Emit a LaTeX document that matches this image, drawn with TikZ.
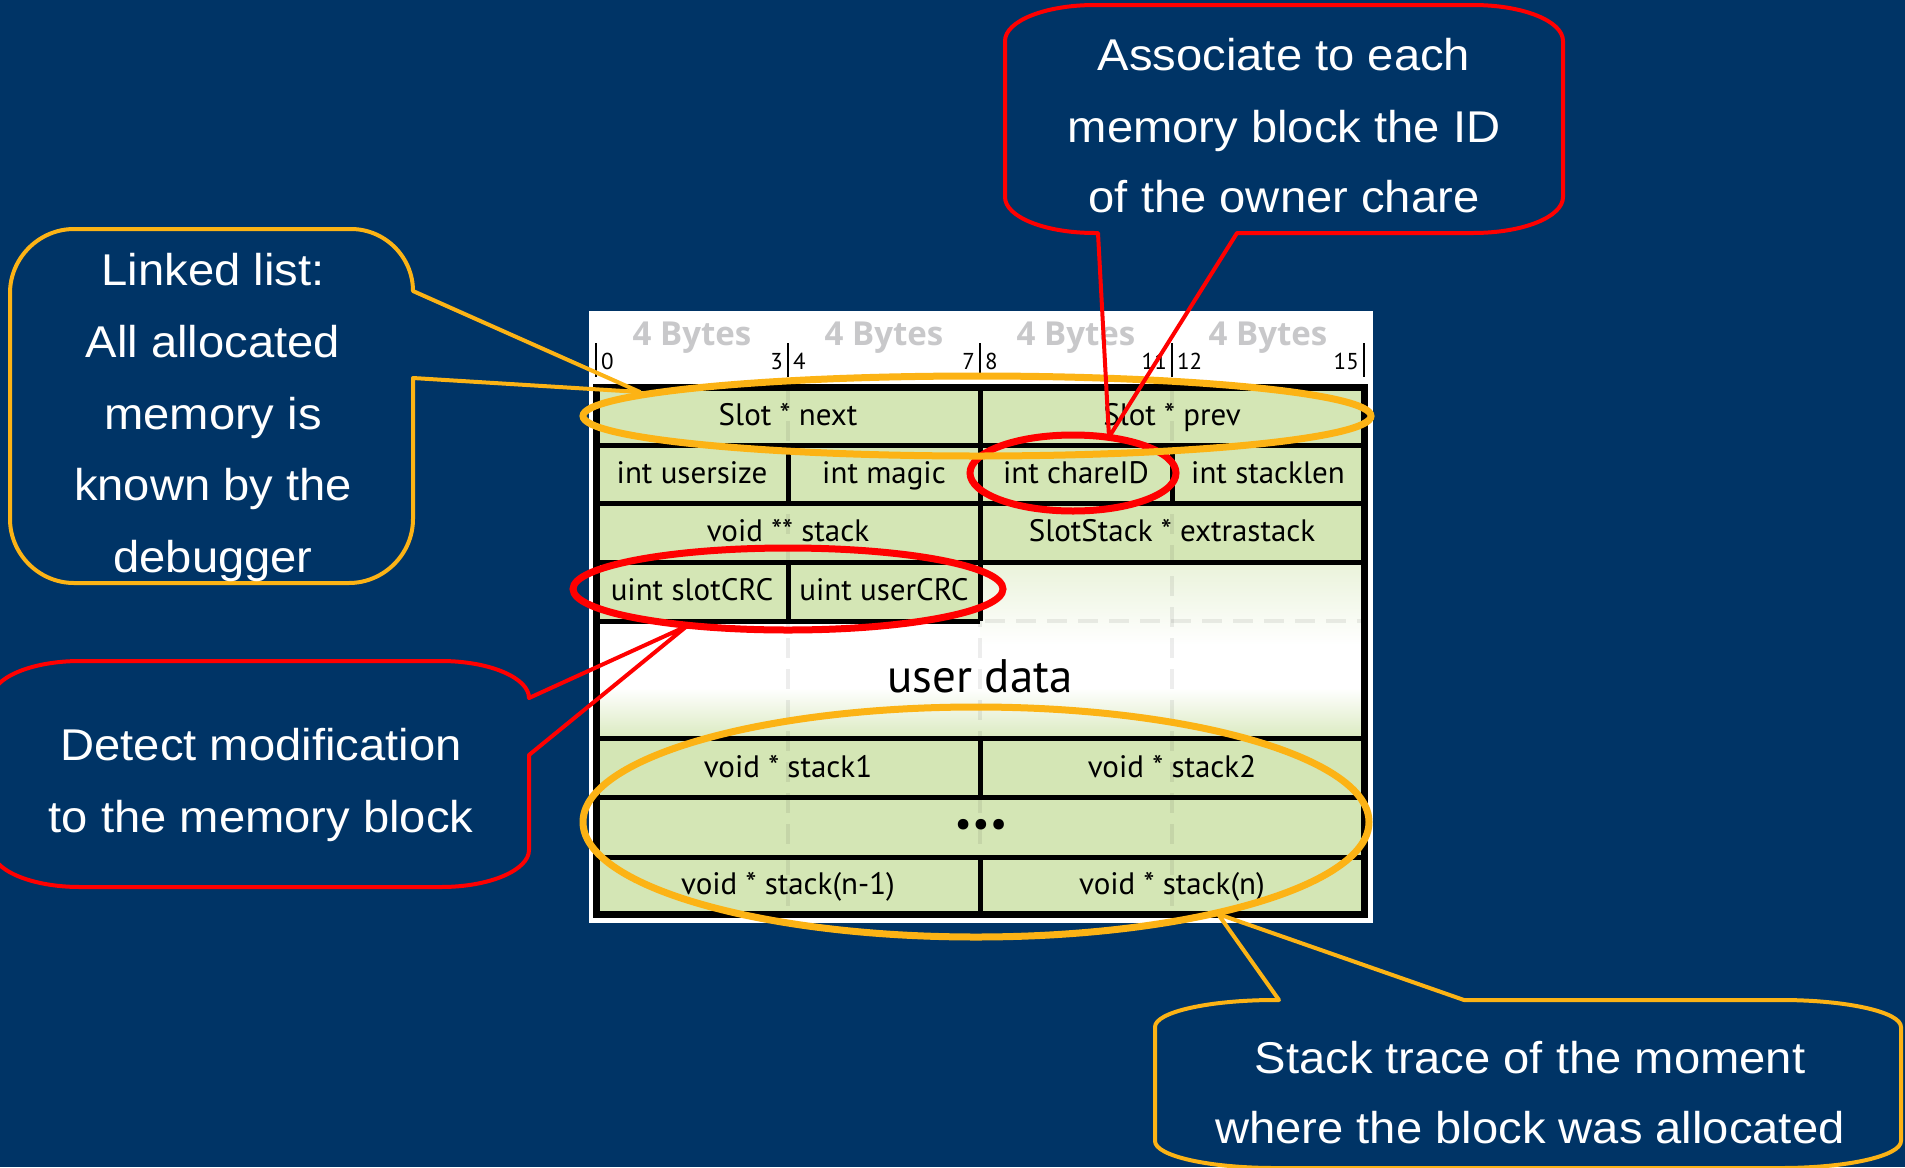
\documentclass[tikz,border=0pt]{standalone}
\usepackage{fontspec}
\setmainfont{Liberation Sans}
\newfontfamily\cellfont{PT Sans}
\newfontfamily\bytefont{Open Sans}
\newfontfamily\callfont{Liberation Sans}[FakeStretch=1.06]
\definecolor{navy}{HTML}{003466}
\definecolor{cellgreen}{HTML}{D4E6B5}
\definecolor{hlorange}{HTML}{FCB315}
\definecolor{hlred}{HTML}{FF0000}
\definecolor{bytegray}{HTML}{C8C8CA}
\tikzset{
  cell/.style={fill=cellgreen},
  gridline/.style={line width=5bp, black},
  frameline/.style={line width=7bp, black},
  guide/.style={line width=4bp, black, opacity=0.07, dash pattern=on 20bp off 11bp},
  celltext/.style={anchor=base, font=\cellfont\fontsize{31bp}{36bp}\selectfont, inner sep=0},
  bigtext/.style={anchor=base, font=\cellfont\fontsize{47bp}{52bp}\selectfont, inner sep=0},
  bytelabel/.style={anchor=base, font=\bytefont\bfseries\fontsize{33bp}{40bp}\selectfont, text=bytegray, inner sep=0},
  ticknum/.style={font=\cellfont\fontsize{23bp}{27bp}\selectfont, inner sep=0},
  tickmark/.style={line width=2.5bp, black},
  calltext/.style={anchor=base, text=white, font=\callfont\fontsize{44.5bp}{50bp}\selectfont, inner sep=0},
  orangecall/.style={draw=hlorange, line width=4bp, line join=round},
  redcall/.style={draw=hlred, line width=4bp, line join=round},
  orangering/.style={draw=hlorange, line width=7bp},
  redring/.style={draw=hlred, line width=7bp},
}
\begin{document}
\begin{tikzpicture}[x=1bp,y=-1bp]
\useasboundingbox (0,0) rectangle (1905,1167);
\fill[navy] (0,0) rectangle (1905,1167);

% slot layout table
\fill[white] (589,311) rectangle (1373,923);
\node[bytelabel] (b1) at (692,345) {4 Bytes};
\node[bytelabel] (b2) at (884,345) {4 Bytes};
\node[bytelabel] (b3) at (1076,345) {4 Bytes};
\node[bytelabel] (b4) at (1268,345) {4 Bytes};
\foreach \x in {596,788,980,1172,1364} \draw[tickmark] (\x,343) -- (\x,377);
\node[ticknum, anchor=base west] (n0) at (601,369) {0};
\node[ticknum, anchor=base east] (n3) at (783,369) {3};
\node[ticknum, anchor=base west] (n4) at (793,369) {4};
\node[ticknum, anchor=base east] (n7) at (975,369) {7};
\node[ticknum, anchor=base west] (n8) at (985,369) {8};
\node[ticknum, anchor=base east] (n11) at (1167,369) {11};
\node[ticknum, anchor=base west] (n12) at (1177,369) {12};
\node[ticknum, anchor=base east] (n15) at (1359,369) {15};

% cell fills
\fill[cell] (596,387) rectangle (1364,562);
\fill[cell] (596,562) rectangle (980,621);
\shade[top color=cellgreen!50!white, bottom color=white] (980,562) rectangle (1364,645);
\fill[white] (596,621) rectangle (980,645);
\fill[white] (596,645) rectangle (1364,688);
\shade[top color=white, bottom color=cellgreen!85!white] (596,688) rectangle (1364,738);
\fill[cell] (596,738) rectangle (1364,914);

% 4-byte guides
\foreach \x in {788,980,1172} \draw[guide] (\x,390) -- (\x,912);
\draw[guide] (985,621) -- (1362,621);

% cell borders
\draw[gridline] (596,445) -- (1364,445);
\draw[gridline] (596,503) -- (1364,503);
\draw[gridline] (596,562) -- (1364,562);
\draw[gridline] (596,621) -- (980,621);
\draw[gridline] (596,738) -- (1364,738);
\draw[gridline] (596,797) -- (1364,797);
\draw[gridline] (596,857) -- (1364,857);
\draw[gridline] (980,387) -- (980,621);
\draw[gridline] (788,445) -- (788,503);
\draw[gridline] (1172,445) -- (1172,503);
\draw[gridline] (788,562) -- (788,621);
\draw[gridline] (980,738) -- (980,797);
\draw[gridline] (980,857) -- (980,914);
\draw[frameline] (596,387) rectangle (1364,914);

% field names
\node[celltext] (next) at (788,425) {Slot * next};
\node[celltext] (prev) at (1172,425) {Slot * prev};
\node[celltext] (usersize) at (692,483) {int usersize};
\node[celltext] (magic) at (884,483) {int magic};
\node[celltext] (chareid) at (1076,483) {int chareID};
\node[celltext] (stacklen) at (1268,483) {int stacklen};
\node[celltext] (stack) at (788,541) {void ** stack};
\node[celltext] (extra) at (1172,541) {SlotStack * extrastack};
\node[celltext] (slotcrc) at (692,600) {uint slotCRC};
\node[celltext] (usercrc) at (884,600) {uint userCRC};
\node[bigtext] (udata) at (980,692) {user data};
\node[celltext] (st1) at (788,777) {void * stack1};
\node[celltext] (st2) at (1172,777) {void * stack2};
\node[font=\cellfont\fontsize{38bp}{44bp}\selectfont, inner sep=0] (dots) at (981,828) {•\kern0.5bp•\kern0.5bp•};
\node[celltext] (stn1) at (788,894) {void * stack(n-1)};
\node[celltext] (stn) at (1172,894) {void * stack(n)};

% highlight rings
\draw[redring] (1073,473) ellipse [x radius=103, y radius=38];
\draw[redring] (788,589) ellipse [x radius=215, y radius=41];
\draw[orangering] (977,416) ellipse [x radius=394, y radius=40];
\draw[orangering] (976,822) ellipse [x radius=393, y radius=115];

% callout pointer tips
\coordinate (tipA) at (640,392);
\coordinate (tipB) at (687,626);
\coordinate (tipC) at (1109,437);
\coordinate (tipD) at (1218,914);

% linked list callout
\draw[orangecall] (74,229) -- (351,229) .. controls (385,229) and (413,257) .. (413,291)
  -- (tipA) -- (413,378) -- (413,519) .. controls (413,554) and (384,583) .. (349,583)
  -- (74,583) .. controls (39,583) and (10,554) .. (10,519)
  -- (10,293) .. controls (10,258) and (39,229) .. (74,229) -- cycle;
\node[calltext] (la1) at (213,285) {Linked list:};
\node[calltext] (la2) at (213,357) {All allocated};
\node[calltext] (la3) at (213,429) {memory is};
\node[calltext] (la4) at (213,500) {known by the};
\node[calltext] (la5) at (213,572) {debugger};

% modification callout
\draw[redcall] (80,661) -- (441,661) .. controls (490,661) and (529,678) .. (529,698)
  -- (tipB) -- (529,755) -- (529,850) .. controls (529,870) and (490,887) .. (441,887)
  -- (80,887) .. controls (31,887) and (-8,870) .. (-8,850)
  -- (-8,698) .. controls (-8,678) and (31,661) .. (80,661) -- cycle;
\node[calltext] (lb1) at (261,760) {Detect modification};
\node[calltext] (lb2) at (261,832) {to the memory block};

% owner callout
\draw[redcall] (1095,5) -- (1473,5) .. controls (1523,5) and (1563,21) .. (1563,41)
  -- (1563,197) .. controls (1563,217) and (1523,233) .. (1473,233)
  -- (1237,233) -- (tipC) -- (1098,233) -- (1095,233)
  .. controls (1045,233) and (1005,217) .. (1005,197)
  -- (1005,41) .. controls (1005,21) and (1045,5) .. (1095,5) -- cycle;
\node[calltext] (lc1) at (1284,70) {Associate to each};
\node[calltext] (lc2) at (1284,142) {memory block the ID};
\node[calltext] (lc3) at (1284,212) {of the owner chare};

% stack trace callout
\draw[orangecall] (1155,1141) -- (1155,1027) .. controls (1155,1012) and (1209,1000) .. (1275,1000)
  -- (1279,1000) -- (tipD) -- (1464,1000) -- (1781,1000)
  .. controls (1847,1000) and (1901,1012) .. (1901,1027)
  -- (1901,1141) .. controls (1901,1156) and (1847,1168) .. (1781,1168)
  -- (1275,1168) .. controls (1209,1168) and (1155,1156) .. (1155,1141) -- cycle;
\node[calltext] (ld1) at (1530,1073) {Stack trace of the moment};
\node[calltext] (ld2) at (1530,1143) {where the block was allocated};
\end{tikzpicture}
\end{document}
